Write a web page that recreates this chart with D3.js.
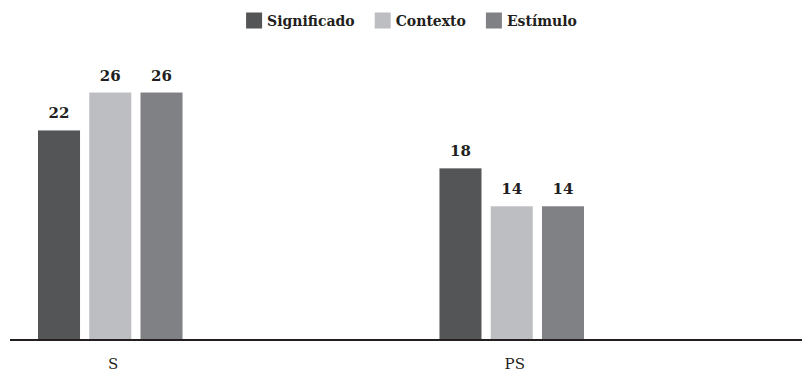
<!DOCTYPE html>
<html>
<head>
<meta charset="utf-8">
<script src="https://cdn.jsdelivr.net/npm/d3@7"></script>
<style>
  html, body { margin: 0; padding: 0; background: #fff; }
  svg { display: block; }
</style>
</head>
<body>
<svg id="chart" width="802" height="374"></svg>
<script>
const categories = ["S", "PS"];
const seriesNames = ["Significado", "Contexto", "Estímulo"];
const significado = [22, 18];
const contexto = [26, 14];
const estimulo = [26, 14];
const seriesValues = [significado, contexto, estimulo];
const colors = ["#545557", "#bdbec2", "#808185"];

const svg = d3.select("#chart");
const W = 802, H = 374;

const y = d3.scaleLinear().domain([0, 30]).range([339, 54.6]);
const x0 = d3.scaleBand().domain(categories).range([38, 584]).paddingInner(0.64).paddingOuter(0);
const x1 = d3.scaleBand().domain(seriesNames).range([0, x0.bandwidth()]).paddingInner(0.18).paddingOuter(0);
const color = d3.scaleOrdinal().domain(seriesNames).range(colors);

const data = [];
categories.forEach((c, i) => {
  seriesNames.forEach((s, j) => {
    data.push({ cat: c, series: s, value: seriesValues[j][i] });
  });
});

const g = svg.append("g");
g.selectAll("rect.bar").data(data).enter().append("rect")
  .attr("class", "bar")
  .attr("x", d => x0(d.cat) + x1(d.series))
  .attr("y", d => y(d.value))
  .attr("width", x1.bandwidth())
  .attr("height", d => y(0) - y(d.value))
  .attr("fill", d => color(d.series));

g.selectAll("text.val").data(data).enter().append("text")
  .attr("class", "val")
  .attr("x", d => x0(d.cat) + x1(d.series) + x1.bandwidth() / 2)
  .attr("y", d => y(d.value) - 12)
  .attr("text-anchor", "middle")
  .attr("font-family", "DejaVu Serif")
  .attr("font-weight", "bold")
  .attr("font-size", 15)
  .attr("fill", "#231f20")
  .text(d => d.value);

// baseline axis
svg.append("line")
  .attr("x1", 10).attr("x2", W)
  .attr("y1", y(0) + 1).attr("y2", y(0) + 1)
  .attr("stroke", "#231f20").attr("stroke-width", 2);

// category labels
svg.selectAll("text.cat").data(categories).enter().append("text")
  .attr("class", "cat")
  .attr("x", d => x0(d) + x0.bandwidth() / 2 + 3)
  .attr("y", 369)
  .attr("text-anchor", "middle")
  .attr("font-family", "DejaVu Serif")
  .attr("font-size", 15)
  .attr("fill", "#231f20")
  .text(d => d);

// legend
const legend = svg.append("g");
const items = legend.selectAll("g.item").data(seriesNames).enter().append("g").attr("class", "item");
items.append("rect").attr("width", 16).attr("height", 16).attr("y", 12.5)
  .attr("fill", d => color(d));
items.append("text").attr("x", 21).attr("y", 26)
  .attr("font-family", "DejaVu Serif").attr("font-weight", "bold").attr("font-size", 14)
  .attr("fill", "#231f20").text(d => d);
let offs = [], cur = 0;
items.each(function(d, i) {
  const w = d3.select(this).select("text").node().getComputedTextLength();
  offs.push(cur);
  cur += 21 + w + (i < seriesNames.length - 1 ? 20 : 0);
});
const startX = 411.5 - cur / 2;
items.attr("transform", (d, i) => `translate(${startX + offs[i]},0)`);
</script>
</body>
</html>
